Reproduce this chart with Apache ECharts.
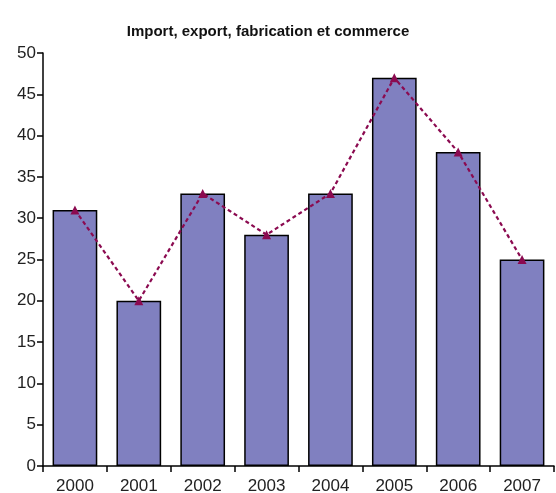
<!DOCTYPE html>
<html>
<head>
<meta charset="utf-8">
<script src="https://cdn.jsdelivr.net/npm/echarts@6/dist/echarts.min.js"></script>
<style>
  html, body { margin: 0; padding: 0; background: #fff; }
  #chart { width: 556px; height: 493px; }
</style>
</head>
<body>
<div id="chart"></div>
<script>
// Yearly counts for the sector
const years = ['2000', '2001', '2002', '2003', '2004', '2005', '2006', '2007'];
const counts = [31, 20, 33, 28, 33, 47, 38, 25];
const yTicks = { min: 0, max: 50, interval: 5 };

const chart = echarts.init(document.getElementById('chart'));
const font = '"Liberation Sans", Arial, sans-serif';

chart.setOption({
  animation: false,
  title: {
    text: 'Import, export, fabrication et commerce',
    left: 263,
    textAlign: 'center',
    top: 19,
    textStyle: { fontFamily: font, fontSize: 15, fontWeight: 'bold', color: '#111' }
  },
  grid: { left: 43, right: 2, top: 53, bottom: 27, containLabel: false, outerBoundsMode: 'none' },
  xAxis: {
    type: 'category',
    data: years,
    boundaryGap: true,
    axisLine: { lineStyle: { color: '#000', width: 1.5 } },
    axisTick: { show: true, alignWithLabel: false, length: 6, lineStyle: { color: '#000', width: 1.5 } },
    axisLabel: { color: '#222', fontFamily: font, fontSize: 17, margin: 12 },
    splitLine: { show: false }
  },
  yAxis: {
    type: 'value',
    min: yTicks.min,
    max: yTicks.max,
    interval: yTicks.interval,
    axisLine: { show: true, lineStyle: { color: '#000', width: 1.5 } },
    axisTick: { show: true, length: 6, lineStyle: { color: '#000', width: 1.5 } },
    axisLabel: { color: '#222', fontFamily: font, fontSize: 17, margin: 7 },
    splitLine: { show: false }
  },
  series: [
    {
      type: 'bar',
      data: counts,
      barWidth: '70%',
      itemStyle: { color: '#8080c0', borderColor: '#000', borderWidth: 1.5 }
    },
    {
      type: 'line',
      data: counts,
      symbol: 'triangle',
      symbolSize: 9,
      lineStyle: { color: '#8b0a50', width: 2.2, type: [4, 3] },
      itemStyle: { color: '#8b0a50' }
    }
  ]
});
</script>
</body>
</html>
